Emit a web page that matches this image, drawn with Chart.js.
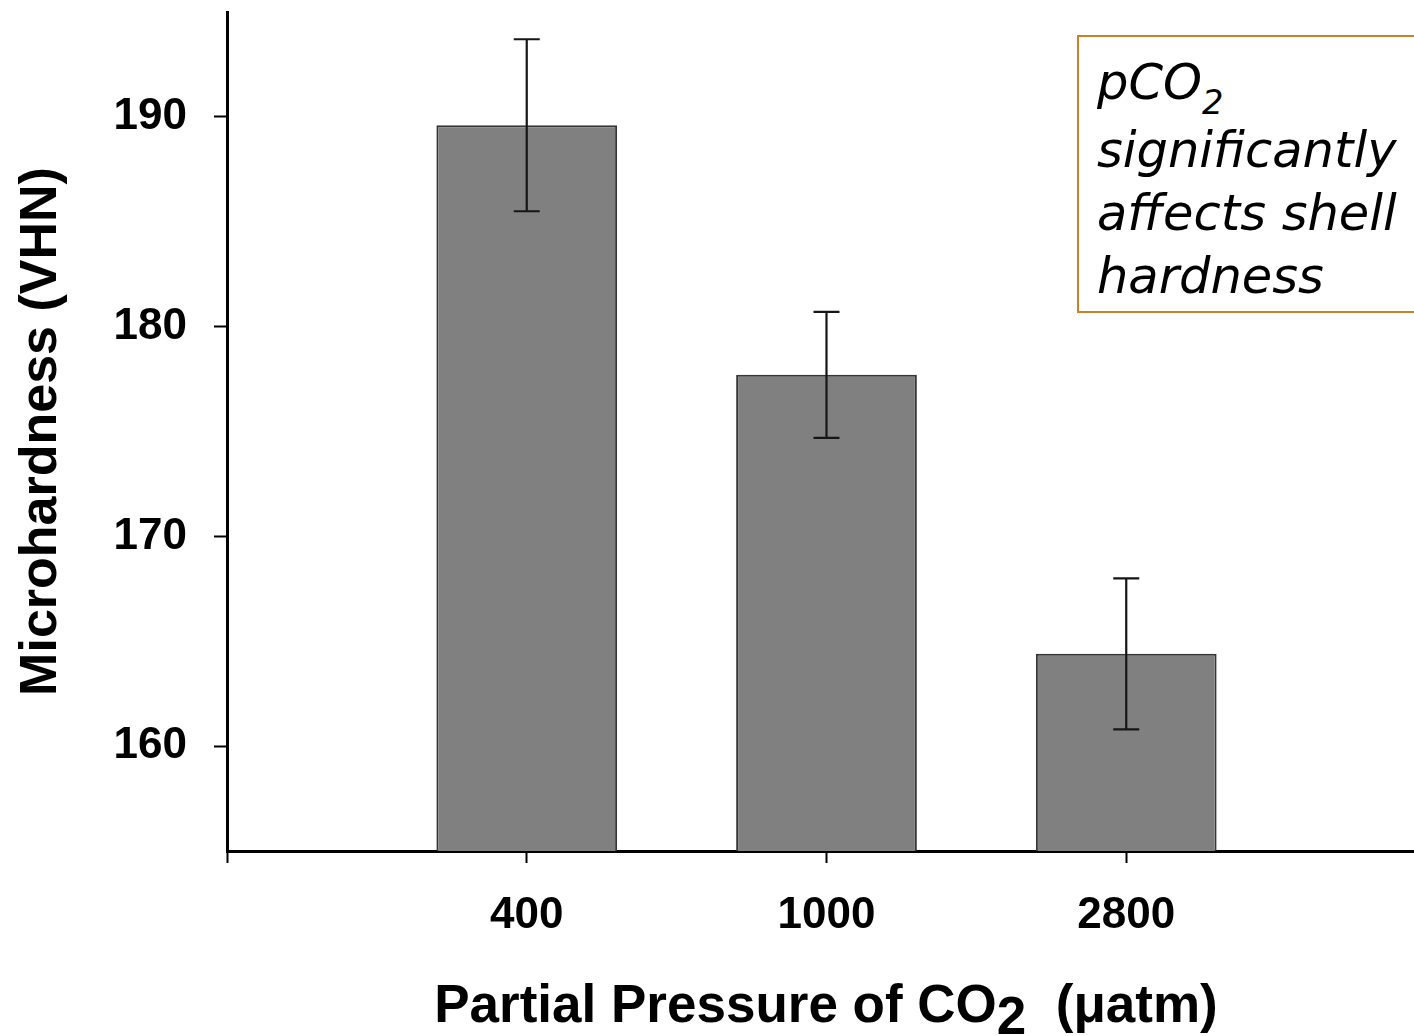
<!DOCTYPE html>
<html lang="en">
<head>
<meta charset="utf-8">
<title>Microhardness vs pCO2</title>
<script src="https://cdn.jsdelivr.net/npm/chart.js@4.4.1/dist/chart.umd.min.js"></script>
<style>
    html, body { margin: 0; padding: 0; background: #fff; }
    #wrap { position: relative; width: 1414px; height: 1036px; overflow: hidden; }
    #chart { position: absolute; left: 0; top: 0; }
    .x-title {
        position: absolute; left: 226px; top: 977px; width: 1200px;
        text-align: center; white-space: pre; color: #000;
        font: bold 53px "Liberation Sans", Arial, sans-serif; line-height: 1;
    }
    .x-title .sub { position: relative; top: 12px; }
    .note {
        position: absolute; left: 1077px; top: 35px; width: 420px; height: 274px;
        border: 2px solid #c8822a; background: #fff;
    }
    .note-text {
        position: absolute; left: 1097px; top: 51px; color: #000;
        font: oblique 49.5px "DejaVu Sans", sans-serif; line-height: 63px;
    }
    .note-text .sub { font-size: 0.68em; position: relative; top: 15px; }
</style>
</head>
<body>
<div id="wrap">
    <canvas id="chart" width="1414" height="1036"></canvas>
    <div class="x-title">Partial Pressure of CO<span class="sub">2</span>  (μatm)</div>
    <div class="note"></div>
    <div class="note-text">pCO<span class="sub">2</span><br>significantly<br>affects shell<br>hardness</div>
</div>
<script>
// Twardość muszli przy trzech poziomach pCO2 (średnia ± błąd)
const pressureLabels = ["400", "1000", "2800"];
const hardnessMean = [189.6, 177.7, 164.4];
const hardnessErr = [4.1, 3.0, 3.6];
const yTicks = [160, 170, 180, 190];
const xTicks = [0, 1, 2, 3];

const boldFont = { family: "'Liberation Sans', Arial, sans-serif", weight: "bold", size: 44 };

// wąsy błędu rysowane po słupkach
const errorBars = {
    id: "errorBars",
    afterDatasetsDraw(chart) {
        const { ctx, scales: { x, y } } = chart;
        ctx.save();
        ctx.strokeStyle = "#161616";
        ctx.lineWidth = 2.2;
        hardnessMean.forEach((mean, i) => {
            const px = x.getPixelForValue(i + 1);
            const top = y.getPixelForValue(mean + hardnessErr[i]);
            const bottom = y.getPixelForValue(mean - hardnessErr[i]);
            ctx.beginPath();
            ctx.moveTo(px, top);
            ctx.lineTo(px, bottom);
            ctx.moveTo(px - 13, top);
            ctx.lineTo(px + 13, top);
            ctx.moveTo(px - 13, bottom);
            ctx.lineTo(px + 13, bottom);
            ctx.stroke();
        });
        ctx.restore();
    },
};

new Chart(document.getElementById("chart"), {
    type: "bar",
    data: {
        datasets: [{
            data: hardnessMean.map((v, i) => ({ x: i + 1, y: v })),
            backgroundColor: "#808080",
            borderColor: "#363636",
            borderWidth: 2,
            categoryPercentage: 1,
            barPercentage: 0.603,
        }],
    },
    options: {
        responsive: false,
        animation: false,
        layout: { padding: { top: 12, right: 0, bottom: 0, left: 0 } },
        plugins: {
            legend: { display: false },
            tooltip: { enabled: false },
        },
        scales: {
            x: {
                type: "linear",
                min: 0,
                max: 3.96,
                offset: false,
                afterBuildTicks: (scale) => {
                    scale.ticks = xTicks.map((v) => ({ value: v }));
                },
                afterFit: (scale) => {
                    scale.height = 185;
                    scale.paddingLeft = 0;
                    scale.paddingRight = 0;
                },
                ticks: {
                    callback: (v) => pressureLabels[v - 1] ?? "",
                    color: "#000",
                    font: boldFont,
                    padding: 26,
                    maxRotation: 0,
                    autoSkip: false,
                },
                grid: {
                    offset: false,
                    drawOnChartArea: false,
                    tickLength: 12,
                    tickWidth: 2,
                    tickColor: "#000",
                },
                border: { color: "#000", width: 3 },
            },
            y: {
                min: 155,
                max: 195,
                afterBuildTicks: (scale) => {
                    scale.ticks = yTicks.map((v) => ({ value: v }));
                },
                afterFit: (scale) => {
                    scale.width = 227;
                    scale.paddingTop = 0;
                    scale.paddingBottom = 0;
                },
                ticks: {
                    color: "#000",
                    font: boldFont,
                    padding: 27,
                },
                grid: {
                    drawOnChartArea: false,
                    tickLength: 13,
                    tickWidth: 2,
                    tickColor: "#000",
                },
                border: { color: "#000", width: 3 },
                title: {
                    display: true,
                    text: "Microhardness (VHN)",
                    color: "#000",
                    font: { family: "'Liberation Sans', Arial, sans-serif", weight: "bold", size: 52 },
                    padding: { top: 10, bottom: 0 },
                },
            },
        },
    },
    plugins: [errorBars],
});
</script>
</body>
</html>
